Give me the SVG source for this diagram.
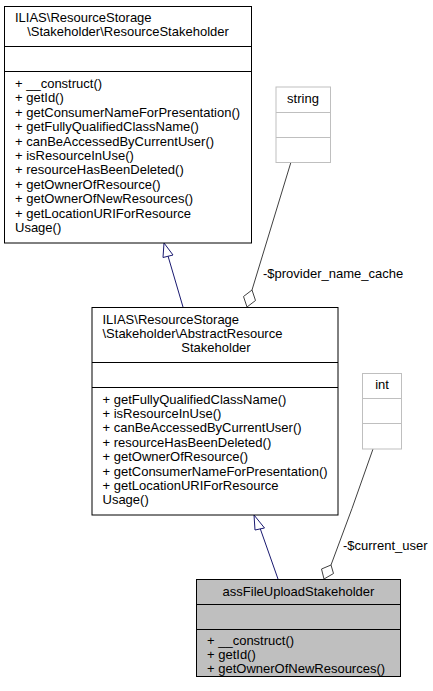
<svg xmlns="http://www.w3.org/2000/svg" width="433" height="691" viewBox="0 0 433 691">
<style>
text{font-family:"Liberation Sans",Arial,sans-serif;font-size:13px;fill:#000}
.c{text-anchor:middle}
.box{fill:#fff;stroke:#000;stroke-width:1}
.gbox{fill:#fff;stroke:#bfbfbf;stroke-width:1}
.cur{fill:#bfbfbf;stroke:#000;stroke-width:1}
.inh{stroke:#191970;fill:none;stroke-width:1}
.inhh{stroke:#191970;fill:#fff;stroke-width:1}
.agg{stroke:#404040;fill:none;stroke-width:1}
.aggh{stroke:#404040;fill:#fff;stroke-width:1}
</style>
<rect width="433" height="691" fill="#fff"/>
<g id="connectors">
<path class="inh" d="M183,307 L168,256"/>
<polygon class="inhh" points="164,243 163,257.5 173,255"/>
<path class="inh" d="M278,579 L260,528"/>
<polygon class="inhh" points="254,515 255,530 264.5,528"/>
<path class="agg" d="M291,162 L252,290"/>
<polygon class="aggh" points="247,307 243.5,296.5 252,290 255.5,300.5"/>
<text x="263" y="278">-$provider_name_cache</text>
<path class="agg" d="M373,449 Q352,510 331,565"/>
<polygon class="aggh" points="324,579 321.5,569 331,565 333.5,573.5"/>
<text x="343" y="550">-$current_user</text>
</g>
<g id="ResourceStakeholder">
<rect class="box" x="4.5" y="6.5" width="247" height="236.5"/>
<line x1="4.5" y1="46.5" x2="251.5" y2="46.5" stroke="#000"/>
<line x1="4.5" y1="71.5" x2="251.5" y2="71.5" stroke="#000"/>
<text x="15" y="22">ILIAS\ResourceStorage</text>
<text class="c" x="128" y="36.4">\Stakeholder\ResourceStakeholder</text>
<text x="15" y="88">+ __construct()</text>
<text x="15" y="102.4">+ getId()</text>
<text x="15" y="116.8">+ getConsumerNameForPresentation()</text>
<text x="15" y="131.2">+ getFullyQualifiedClassName()</text>
<text x="15" y="145.6">+ canBeAccessedByCurrentUser()</text>
<text x="15" y="160">+ isResourceInUse()</text>
<text x="15" y="174.4">+ resourceHasBeenDeleted()</text>
<text x="15" y="188.8">+ getOwnerOfResource()</text>
<text x="15" y="203.2">+ getOwnerOfNewResources()</text>
<text x="15" y="217.6">+ getLocationURIForResource</text>
<text x="15" y="232">Usage()</text>
</g>
<g id="string">
<rect class="gbox" x="276" y="87" width="54.5" height="75.5"/>
<line x1="276" y1="112.5" x2="330.5" y2="112.5" stroke="#bfbfbf"/>
<line x1="276" y1="137.5" x2="330.5" y2="137.5" stroke="#bfbfbf"/>
<text class="c" x="303" y="103">string</text>
</g>
<g id="AbstractResourceStakeholder">
<rect class="box" x="92" y="307.5" width="246" height="207.5"/>
<line x1="92" y1="362.5" x2="338" y2="362.5" stroke="#000"/>
<line x1="92" y1="387.5" x2="338" y2="387.5" stroke="#000"/>
<text x="102.5" y="323.5">ILIAS\ResourceStorage</text>
<text x="102.5" y="338">\Stakeholder\AbstractResource</text>
<text class="c" x="216" y="352.4">Stakeholder</text>
<text x="102.5" y="403.5">+ getFullyQualifiedClassName()</text>
<text x="102.5" y="417.9">+ isResourceInUse()</text>
<text x="102.5" y="432.3">+ canBeAccessedByCurrentUser()</text>
<text x="102.5" y="446.7">+ resourceHasBeenDeleted()</text>
<text x="102.5" y="461.1">+ getOwnerOfResource()</text>
<text x="102.5" y="475.5">+ getConsumerNameForPresentation()</text>
<text x="102.5" y="489.9">+ getLocationURIForResource</text>
<text x="102.5" y="504.3">Usage()</text>
</g>
<g id="int">
<rect class="gbox" x="362.5" y="373.5" width="39" height="75.5"/>
<line x1="362.5" y1="398.5" x2="401.5" y2="398.5" stroke="#bfbfbf"/>
<line x1="362.5" y1="423.5" x2="401.5" y2="423.5" stroke="#bfbfbf"/>
<text class="c" x="382" y="388.5">int</text>
</g>
<g id="assFileUploadStakeholder">
<rect class="cur" x="196.5" y="579.5" width="204" height="97"/>
<line x1="196.5" y1="604.5" x2="400.5" y2="604.5" stroke="#000"/>
<line x1="196.5" y1="629.5" x2="400.5" y2="629.5" stroke="#000"/>
<text class="c" x="298.5" y="595.5">assFileUploadStakeholder</text>
<text x="207" y="645">+ __construct()</text>
<text x="207" y="659">+ getId()</text>
<text x="207" y="673">+ getOwnerOfNewResources()</text>
</g>
</svg>
